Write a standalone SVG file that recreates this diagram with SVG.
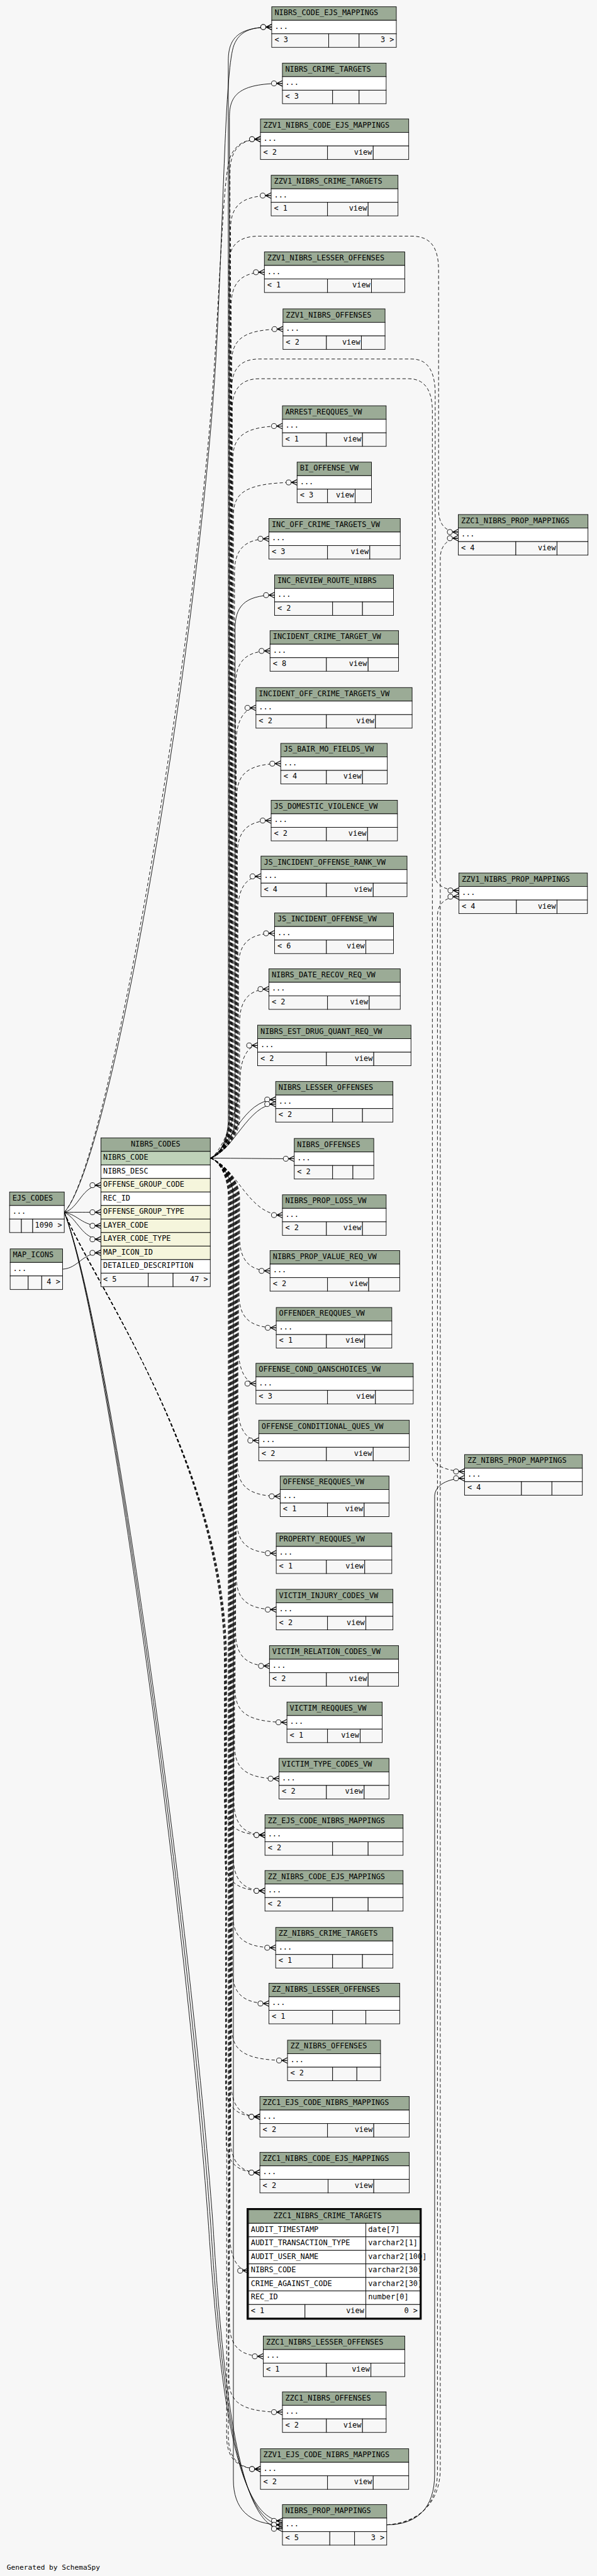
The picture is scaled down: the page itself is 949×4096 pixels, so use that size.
<svg xmlns="http://www.w3.org/2000/svg" width="949" height="4096" viewBox="0 0 949 4096">
<style>
.h{fill:#9bab96;stroke:#000}
.b{fill:#fff;stroke:#000}
.f{fill:#f7f7f7;stroke:#000}
.k{fill:#bed1b8;stroke:#000}
.i{fill:#f5f5dc;stroke:#000}
text{font-family:"DejaVu Sans Mono","Liberation Mono",monospace;font-size:13.3px;fill:#000}
.e{text-anchor:end}
.m{text-anchor:middle}
.s{fill:none;stroke:#000;marker-end:url(#cf)}
.d{fill:none;stroke:#000;stroke-dasharray:6,4;marker-end:url(#cf)}
.n{fill:none;stroke:#000}
</style>
<defs>
<marker id="cf" markerUnits="userSpaceOnUse" markerWidth="26" markerHeight="16" refX="22" refY="8" orient="auto" overflow="visible">
<circle cx="7" cy="8" r="4.5" fill="#f7f7f7" stroke="#000" stroke-width="1" stroke-dasharray="none"/>
<path d="M11.5,8 H22 M12,8 L22,3 M12,8 L22,13" fill="none" stroke="#000" stroke-width="1.3" stroke-dasharray="none"/>
</marker>
</defs>
<rect x="0" y="0" width="949" height="4096" fill="#f7f7f7"/>
<g transform="scale(0.89613)">
<g id="connectors">
<path class="s" d="M373,2055 C390,2050 405,2020 405,1985 L405,108 C405,70 420,48 482,48"/>
<path class="s" d="M373,2055 C390,2050 407,2020 407,1985 L407,208 C407,170 422,148 501,148"/>
<path class="d" d="M373,2055 C390,2050 408,2020 408,1985 L408,307 C408,269 423,247 462,247"/>
<path class="d" d="M373,2055 C390,2050 409,2020 409,1985 L409,407 C409,369 424,347 481,347"/>
<path class="d" d="M373,2055 C390,2050 410,2020 410,1985 L410,543 C410,505 425,483 469,483"/>
<path class="d" d="M373,2055 C390,2050 411,2020 411,1985 L411,644 C411,606 426,584 502,584"/>
<path class="d" d="M373,2055 C390,2050 413,2020 413,1985 L413,816 C413,778 428,756 501,756"/>
<path class="d" d="M373,2055 C390,2050 414,2020 414,1985 L414,916 C414,878 429,856 527,856"/>
<path class="d" d="M373,2055 C390,2050 416,2020 416,1985 L416,1016 C416,978 431,956 477,956"/>
<path class="s" d="M373,2055 C390,2050 417,2020 417,1985 L417,1116 C417,1078 432,1056 487,1056"/>
<path class="d" d="M373,2055 C390,2050 418,2020 418,1985 L418,1215 C418,1177 433,1155 479,1155"/>
<path class="d" d="M373,2055 C390,2050 419,2020 419,1985 L419,1316 C419,1278 434,1256 454,1256"/>
<path class="d" d="M373,2055 C390,2050 420,2020 420,1985 L420,1415 C420,1377 435,1355 498,1355"/>
<path class="d" d="M373,2055 C390,2050 421,2020 421,1985 L421,1516 C421,1478 436,1456 481,1456"/>
<path class="d" d="M373,2055 C390,2050 422,2020 422,1985 L422,1615 C422,1577 437,1555 463,1555"/>
<path class="d" d="M373,2055 C390,2050 423,2020 423,1985 L423,1716 C423,1678 438,1656 487,1656"/>
<path class="d" d="M373,2055 C390,2050 425,2020 425,1985 L425,1815 C425,1777 440,1755 477,1755"/>
<path class="d" d="M373,2055 C395,2045 426,1960 426,1915 C426,1877 441,1855 457,1855"/>
<path class="s" d="M373,2055 C410,2035 430,1951 489,1951"/>
<path class="s" d="M373,2055 C415,2042 440,1959 489,1959"/>
<path class="s" d="M373,2055 C420,2055 470,2056 522,2056"/>
<path class="d" d="M373,2055 C420,2070 440,2156 501,2156"/>
<path class="d" d="M373,2055 C390,2060 425,2090 425,2125 L425,2195 C425,2233 440,2255 479,2255"/>
<path class="d" d="M373,2055 C390,2060 424,2090 424,2125 L424,2296 C424,2334 439,2356 490,2356"/>
<path class="d" d="M373,2055 C390,2060 423,2090 423,2125 L423,2395 C423,2433 438,2455 454,2455"/>
<path class="d" d="M373,2055 C390,2060 422,2090 422,2125 L422,2496 C422,2534 437,2556 459,2556"/>
<path class="d" d="M373,2055 C390,2060 421,2090 421,2125 L421,2595 C421,2633 436,2655 497,2655"/>
<path class="d" d="M373,2055 C390,2060 420,2090 420,2125 L420,2696 C420,2734 435,2756 490,2756"/>
<path class="d" d="M373,2055 C390,2060 419,2090 419,2125 L419,2796 C419,2834 434,2856 490,2856"/>
<path class="d" d="M373,2055 C390,2060 418,2090 418,2125 L418,2896 C418,2934 433,2956 478,2956"/>
<path class="d" d="M373,2055 C390,2060 417,2090 417,2125 L417,2996 C417,3034 432,3056 509,3056"/>
<path class="d" d="M373,2055 C390,2060 416,2090 416,2125 L416,3096 C416,3134 431,3156 495,3156"/>
<path class="d" d="M373,2055 C390,2060 415,2090 415,2125 L415,3196 C415,3234 430,3256 470,3256"/>
<path class="d" d="M373,2055 C390,2060 414,2090 414,2125 L414,3295 C414,3333 429,3355 470,3355"/>
<path class="d" d="M373,2055 C390,2060 413,2090 413,2125 L413,3396 C413,3434 428,3456 489,3456"/>
<path class="d" d="M373,2055 C390,2060 412,2090 412,2125 L412,3495 C412,3533 427,3555 477,3555"/>
<path class="d" d="M373,2055 C390,2060 411,2090 411,2125 L411,3596 C411,3634 426,3656 510,3656"/>
<path class="d" d="M373,2055 C390,2060 410,2090 410,2125 L410,3696 C410,3734 425,3756 461,3756"/>
<path class="d" d="M373,2055 C390,2060 409,2090 409,2125 L409,3795 C409,3833 424,3855 461,3855"/>
<path class="d" d="M373,2055 C390,2060 408,2090 408,2125 L408,3969 C408,4007 423,4029 441,4029"/>
<path class="d" d="M373,2055 C390,2060 407,2090 407,2125 L407,4121 C407,4159 422,4181 467,4181"/>
<path class="d" d="M373,2055 C390,2060 406,2090 406,2125 L406,4220 C406,4258 421,4280 501,4280"/>
<path class="d" d="M373,2055 C390,2060 405,2090 405,2125 L405,4321 C405,4359 420,4381 462,4381"/>
<path class="s" d="M373,2055 C390,2060 414,2090 414,2125 L414,4400 C414,4450 440,4480 501,4480"/>
<path class="s" d="M114,2151 C140,2145 145,2103 179,2103"/>
<path class="s" d="M114,2151 C140,2151 150,2151 179,2151"/>
<path class="s" d="M114,2151 C140,2156 145,2175 179,2175"/>
<path class="s" d="M114,2151 C138,2162 145,2199 179,2199"/>
<path class="s" d="M111,2252 C140,2250 145,2223 179,2223"/>
<path class="s" d="M114,2151 C200,2060 360,1100 385,600 C398,330 400,120 415,80 C425,55 445,48 482,48"/>
<path class="d" d="M114,2151 C195,2065 355,1100 382,620 C395,400 398,300 410,275 C420,255 435,247 462,247"/>
<path class="d" d="M114,2151 C170,2280 398,2600 398,2950 L398,3196 C398,3234 413,3256 470,3256"/>
<path class="d" d="M114,2151 C170,2282 399,2600 399,2950 L399,3295 C399,3333 414,3355 470,3355"/>
<path class="d" d="M114,2151 C170,2284 400,2600 400,2950 L400,3696 C400,3734 415,3756 461,3756"/>
<path class="d" d="M114,2151 C170,2286 401,2600 401,2950 L401,3795 C401,3833 416,3855 461,3855"/>
<path class="d" d="M114,2151 C170,2288 402,2600 402,2950 L402,4321 C402,4359 417,4381 462,4381"/>
<path class="s" d="M114,2151 C190,2350 330,3400 370,3950 C390,4250 420,4473 501,4473"/>
<path class="s" d="M114,2151 C192,2350 334,3400 374,3950 C393,4250 423,4480 501,4480"/>
<path class="s" d="M114,2151 C194,2350 338,3400 378,3950 C396,4250 426,4487 501,4487"/>
<path class="d" d="M373,2055 C390,2050 406,2020 406,1985 L406,470 C406,435 423,419 460,419 L730,419 C765,419 778,440 778,480 L778,905 C778,930 790,944 813,944"/>
<path class="d" d="M373,2055 C390,2050 411,2020 411,1985 L411,690 C411,655 426,637 460,637 L730,637 C760,637 772,660 772,700 L772,1555 C772,1570 790,1580 814,1580"/>
<path class="d" d="M373,2055 C390,2050 412,2020 412,1985 L412,725 C412,690 428,672 460,672 L725,672 C755,672 767,695 767,730 L767,2585 C767,2600 795,2611 824,2611"/>
<path class="s" d="M686,4480 C740,4480 771,4450 771,4390 L771,2655 C771,2635 795,2623 824,2623"/>
<path class="d" d="M686,4480 C742,4478 776,4445 776,4385 L776,1625 C776,1600 795,1591 814,1591"/>
<path class="d" d="M686,4480 C744,4476 781,4440 781,4380 L781,990 C781,968 795,955 813,955"/>
</g>

<g id="NIBRS_CODE_EJS_MAPPINGS"><rect class="h" x="482" y="12" width="221" height="24"/><text x="487" y="27">NIBRS_CODE_EJS_MAPPINGS</text><rect class="b" x="482" y="36" width="221" height="24"/><text x="487" y="51">...</text><rect class="f" x="482" y="60" width="101" height="24"/><rect class="f" x="583" y="60" width="54" height="24"/><rect class="f" x="637" y="60" width="66" height="24"/><text x="487" y="75">&lt; 3</text><text class="e" x="699" y="75">3 &gt;</text></g>
<g id="NIBRS_CRIME_TARGETS"><rect class="h" x="501" y="112" width="184" height="24"/><text x="506" y="127">NIBRS_CRIME_TARGETS</text><rect class="b" x="501" y="136" width="184" height="24"/><text x="506" y="151">...</text><rect class="f" x="501" y="160" width="89" height="24"/><rect class="f" x="590" y="160" width="47" height="24"/><rect class="f" x="637" y="160" width="48" height="24"/><text x="506" y="175">&lt; 3</text></g>
<g id="ZZV1_NIBRS_CODE_EJS_MAPPINGS"><rect class="h" x="462" y="211" width="263" height="24"/><text x="467" y="226">ZZV1_NIBRS_CODE_EJS_MAPPINGS</text><rect class="b" x="462" y="235" width="263" height="24"/><text x="467" y="250">...</text><rect class="f" x="462" y="259" width="119" height="24"/><rect class="f" x="581" y="259" width="81" height="24"/><rect class="f" x="662" y="259" width="63" height="24"/><text x="467" y="274">&lt; 2</text><text class="e" x="660" y="274">view</text></g>
<g id="ZZV1_NIBRS_CRIME_TARGETS"><rect class="h" x="481" y="311" width="225" height="24"/><text x="486" y="326">ZZV1_NIBRS_CRIME_TARGETS</text><rect class="b" x="481" y="335" width="225" height="24"/><text x="486" y="350">...</text><rect class="f" x="481" y="359" width="100" height="24"/><rect class="f" x="581" y="359" width="72" height="24"/><rect class="f" x="653" y="359" width="53" height="24"/><text x="486" y="374">&lt; 1</text><text class="e" x="651" y="374">view</text></g>
<g id="ZZV1_NIBRS_LESSER_OFFENSES"><rect class="h" x="469" y="447" width="249" height="24"/><text x="474" y="462">ZZV1_NIBRS_LESSER_OFFENSES</text><rect class="b" x="469" y="471" width="249" height="24"/><text x="474" y="486">...</text><rect class="f" x="469" y="495" width="112" height="24"/><rect class="f" x="581" y="495" width="78" height="24"/><rect class="f" x="659" y="495" width="59" height="24"/><text x="474" y="510">&lt; 1</text><text class="e" x="657" y="510">view</text></g>
<g id="ZZV1_NIBRS_OFFENSES"><rect class="h" x="502" y="548" width="181" height="24"/><text x="507" y="563">ZZV1_NIBRS_OFFENSES</text><rect class="b" x="502" y="572" width="181" height="24"/><text x="507" y="587">...</text><rect class="f" x="502" y="596" width="77" height="24"/><rect class="f" x="579" y="596" width="62" height="24"/><rect class="f" x="641" y="596" width="42" height="24"/><text x="507" y="611">&lt; 2</text><text class="e" x="639" y="611">view</text></g>
<g id="ARREST_REQQUES_VW"><rect class="h" x="501" y="720" width="184" height="24"/><text x="506" y="735">ARREST_REQQUES_VW</text><rect class="b" x="501" y="744" width="184" height="24"/><text x="506" y="759">...</text><rect class="f" x="501" y="768" width="78" height="24"/><rect class="f" x="579" y="768" width="64" height="24"/><rect class="f" x="643" y="768" width="42" height="24"/><text x="506" y="783">&lt; 1</text><text class="e" x="641" y="783">view</text></g>
<g id="BI_OFFENSE_VW"><rect class="h" x="527" y="820" width="132" height="24"/><text x="532" y="835">BI_OFFENSE_VW</text><rect class="b" x="527" y="844" width="132" height="24"/><text x="532" y="859">...</text><rect class="f" x="527" y="868" width="54" height="24"/><rect class="f" x="581" y="868" width="49" height="24"/><rect class="f" x="630" y="868" width="29" height="24"/><text x="532" y="883">&lt; 3</text><text class="e" x="628" y="883">view</text></g>
<g id="INC_OFF_CRIME_TARGETS_VW"><rect class="h" x="477" y="920" width="233" height="24"/><text x="482" y="935">INC_OFF_CRIME_TARGETS_VW</text><rect class="b" x="477" y="944" width="233" height="24"/><text x="482" y="959">...</text><rect class="f" x="477" y="968" width="104" height="24"/><rect class="f" x="581" y="968" width="75" height="24"/><rect class="f" x="656" y="968" width="54" height="24"/><text x="482" y="983">&lt; 3</text><text class="e" x="654" y="983">view</text></g>
<g id="INC_REVIEW_ROUTE_NIBRS"><rect class="h" x="487" y="1020" width="211" height="24"/><text x="492" y="1035">INC_REVIEW_ROUTE_NIBRS</text><rect class="b" x="487" y="1044" width="211" height="24"/><text x="492" y="1059">...</text><rect class="f" x="487" y="1068" width="103" height="24"/><rect class="f" x="590" y="1068" width="53" height="24"/><rect class="f" x="643" y="1068" width="55" height="24"/><text x="492" y="1083">&lt; 2</text></g>
<g id="INCIDENT_CRIME_TARGET_VW"><rect class="h" x="479" y="1119" width="228" height="24"/><text x="484" y="1134">INCIDENT_CRIME_TARGET_VW</text><rect class="b" x="479" y="1143" width="228" height="24"/><text x="484" y="1158">...</text><rect class="f" x="479" y="1167" width="100" height="24"/><rect class="f" x="579" y="1167" width="74" height="24"/><rect class="f" x="653" y="1167" width="54" height="24"/><text x="484" y="1182">&lt; 8</text><text class="e" x="651" y="1182">view</text></g>
<g id="INCIDENT_OFF_CRIME_TARGETS_VW"><rect class="h" x="454" y="1220" width="277" height="24"/><text x="459" y="1235">INCIDENT_OFF_CRIME_TARGETS_VW</text><rect class="b" x="454" y="1244" width="277" height="24"/><text x="459" y="1259">...</text><rect class="f" x="454" y="1268" width="125" height="24"/><rect class="f" x="579" y="1268" width="87" height="24"/><rect class="f" x="666" y="1268" width="65" height="24"/><text x="459" y="1283">&lt; 2</text><text class="e" x="664" y="1283">view</text></g>
<g id="JS_BAIR_MO_FIELDS_VW"><rect class="h" x="498" y="1319" width="189" height="24"/><text x="503" y="1334">JS_BAIR_MO_FIELDS_VW</text><rect class="b" x="498" y="1343" width="189" height="24"/><text x="503" y="1358">...</text><rect class="f" x="498" y="1367" width="81" height="24"/><rect class="f" x="579" y="1367" width="64" height="24"/><rect class="f" x="643" y="1367" width="44" height="24"/><text x="503" y="1382">&lt; 4</text><text class="e" x="641" y="1382">view</text></g>
<g id="JS_DOMESTIC_VIOLENCE_VW"><rect class="h" x="481" y="1420" width="224" height="24"/><text x="486" y="1435">JS_DOMESTIC_VIOLENCE_VW</text><rect class="b" x="481" y="1444" width="224" height="24"/><text x="486" y="1459">...</text><rect class="f" x="481" y="1468" width="98" height="24"/><rect class="f" x="579" y="1468" width="73" height="24"/><rect class="f" x="652" y="1468" width="53" height="24"/><text x="486" y="1483">&lt; 2</text><text class="e" x="650" y="1483">view</text></g>
<g id="JS_INCIDENT_OFFENSE_RANK_VW"><rect class="h" x="463" y="1519" width="259" height="24"/><text x="468" y="1534">JS_INCIDENT_OFFENSE_RANK_VW</text><rect class="b" x="463" y="1543" width="259" height="24"/><text x="468" y="1558">...</text><rect class="f" x="463" y="1567" width="116" height="24"/><rect class="f" x="579" y="1567" width="83" height="24"/><rect class="f" x="662" y="1567" width="60" height="24"/><text x="468" y="1582">&lt; 4</text><text class="e" x="660" y="1582">view</text></g>
<g id="JS_INCIDENT_OFFENSE_VW"><rect class="h" x="487" y="1620" width="211" height="24"/><text x="492" y="1635">JS_INCIDENT_OFFENSE_VW</text><rect class="b" x="487" y="1644" width="211" height="24"/><text x="492" y="1659">...</text><rect class="f" x="487" y="1668" width="92" height="24"/><rect class="f" x="579" y="1668" width="70" height="24"/><rect class="f" x="649" y="1668" width="49" height="24"/><text x="492" y="1683">&lt; 6</text><text class="e" x="647" y="1683">view</text></g>
<g id="NIBRS_DATE_RECOV_REQ_VW"><rect class="h" x="477" y="1719" width="233" height="24"/><text x="482" y="1734">NIBRS_DATE_RECOV_REQ_VW</text><rect class="b" x="477" y="1743" width="233" height="24"/><text x="482" y="1758">...</text><rect class="f" x="477" y="1767" width="104" height="24"/><rect class="f" x="581" y="1767" width="74" height="24"/><rect class="f" x="655" y="1767" width="55" height="24"/><text x="482" y="1782">&lt; 2</text><text class="e" x="653" y="1782">view</text></g>
<g id="NIBRS_EST_DRUG_QUANT_REQ_VW"><rect class="h" x="457" y="1819" width="272" height="24"/><text x="462" y="1834">NIBRS_EST_DRUG_QUANT_REQ_VW</text><rect class="b" x="457" y="1843" width="272" height="24"/><text x="462" y="1858">...</text><rect class="f" x="457" y="1867" width="122" height="24"/><rect class="f" x="579" y="1867" width="84" height="24"/><rect class="f" x="663" y="1867" width="66" height="24"/><text x="462" y="1882">&lt; 2</text><text class="e" x="661" y="1882">view</text></g>
<g id="NIBRS_LESSER_OFFENSES"><rect class="h" x="489" y="1919" width="208" height="24"/><text x="494" y="1934">NIBRS_LESSER_OFFENSES</text><rect class="b" x="489" y="1943" width="208" height="24"/><text x="494" y="1958">...</text><rect class="f" x="489" y="1967" width="101" height="24"/><rect class="f" x="590" y="1967" width="53" height="24"/><rect class="f" x="643" y="1967" width="54" height="24"/><text x="494" y="1982">&lt; 2</text></g>
<g id="NIBRS_OFFENSES"><rect class="h" x="522" y="2020" width="141" height="24"/><text x="527" y="2035">NIBRS_OFFENSES</text><rect class="b" x="522" y="2044" width="141" height="24"/><text x="527" y="2059">...</text><rect class="f" x="522" y="2068" width="68" height="24"/><rect class="f" x="590" y="2068" width="36" height="24"/><rect class="f" x="626" y="2068" width="37" height="24"/><text x="527" y="2083">&lt; 2</text></g>
<g id="NIBRS_PROP_LOSS_VW"><rect class="h" x="501" y="2120" width="184" height="24"/><text x="506" y="2135">NIBRS_PROP_LOSS_VW</text><rect class="b" x="501" y="2144" width="184" height="24"/><text x="506" y="2159">...</text><rect class="f" x="501" y="2168" width="78" height="24"/><rect class="f" x="579" y="2168" width="64" height="24"/><rect class="f" x="643" y="2168" width="42" height="24"/><text x="506" y="2183">&lt; 2</text><text class="e" x="641" y="2183">view</text></g>
<g id="NIBRS_PROP_VALUE_REQ_VW"><rect class="h" x="479" y="2219" width="230" height="24"/><text x="484" y="2234">NIBRS_PROP_VALUE_REQ_VW</text><rect class="b" x="479" y="2243" width="230" height="24"/><text x="484" y="2258">...</text><rect class="f" x="479" y="2267" width="102" height="24"/><rect class="f" x="581" y="2267" width="73" height="24"/><rect class="f" x="654" y="2267" width="55" height="24"/><text x="484" y="2282">&lt; 2</text><text class="e" x="652" y="2282">view</text></g>
<g id="OFFENDER_REQQUES_VW"><rect class="h" x="490" y="2320" width="205" height="24"/><text x="495" y="2335">OFFENDER_REQQUES_VW</text><rect class="b" x="490" y="2344" width="205" height="24"/><text x="495" y="2359">...</text><rect class="f" x="490" y="2368" width="89" height="24"/><rect class="f" x="579" y="2368" width="68" height="24"/><rect class="f" x="647" y="2368" width="48" height="24"/><text x="495" y="2383">&lt; 1</text><text class="e" x="645" y="2383">view</text></g>
<g id="OFFENSE_COND_QANSCHOICES_VW"><rect class="h" x="454" y="2419" width="279" height="24"/><text x="459" y="2434">OFFENSE_COND_QANSCHOICES_VW</text><rect class="b" x="454" y="2443" width="279" height="24"/><text x="459" y="2458">...</text><rect class="f" x="454" y="2467" width="127" height="24"/><rect class="f" x="581" y="2467" width="85" height="24"/><rect class="f" x="666" y="2467" width="67" height="24"/><text x="459" y="2482">&lt; 3</text><text class="e" x="664" y="2482">view</text></g>
<g id="OFFENSE_CONDITIONAL_QUES_VW"><rect class="h" x="459" y="2520" width="267" height="24"/><text x="464" y="2535">OFFENSE_CONDITIONAL_QUES_VW</text><rect class="b" x="459" y="2544" width="267" height="24"/><text x="464" y="2559">...</text><rect class="f" x="459" y="2568" width="120" height="24"/><rect class="f" x="579" y="2568" width="83" height="24"/><rect class="f" x="662" y="2568" width="64" height="24"/><text x="464" y="2583">&lt; 2</text><text class="e" x="660" y="2583">view</text></g>
<g id="OFFENSE_REQQUES_VW"><rect class="h" x="497" y="2619" width="193" height="24"/><text x="502" y="2634">OFFENSE_REQQUES_VW</text><rect class="b" x="497" y="2643" width="193" height="24"/><text x="502" y="2658">...</text><rect class="f" x="497" y="2667" width="84" height="24"/><rect class="f" x="581" y="2667" width="65" height="24"/><rect class="f" x="646" y="2667" width="44" height="24"/><text x="502" y="2682">&lt; 1</text><text class="e" x="644" y="2682">view</text></g>
<g id="PROPERTY_REQQUES_VW"><rect class="h" x="490" y="2720" width="205" height="24"/><text x="495" y="2735">PROPERTY_REQQUES_VW</text><rect class="b" x="490" y="2744" width="205" height="24"/><text x="495" y="2759">...</text><rect class="f" x="490" y="2768" width="89" height="24"/><rect class="f" x="579" y="2768" width="68" height="24"/><rect class="f" x="647" y="2768" width="48" height="24"/><text x="495" y="2783">&lt; 1</text><text class="e" x="645" y="2783">view</text></g>
<g id="VICTIM_INJURY_CODES_VW"><rect class="h" x="490" y="2820" width="207" height="24"/><text x="495" y="2835">VICTIM_INJURY_CODES_VW</text><rect class="b" x="490" y="2844" width="207" height="24"/><text x="495" y="2859">...</text><rect class="f" x="490" y="2868" width="91" height="24"/><rect class="f" x="581" y="2868" width="68" height="24"/><rect class="f" x="649" y="2868" width="48" height="24"/><text x="495" y="2883">&lt; 2</text><text class="e" x="647" y="2883">view</text></g>
<g id="VICTIM_RELATION_CODES_VW"><rect class="h" x="478" y="2920" width="229" height="24"/><text x="483" y="2935">VICTIM_RELATION_CODES_VW</text><rect class="b" x="478" y="2944" width="229" height="24"/><text x="483" y="2959">...</text><rect class="f" x="478" y="2968" width="101" height="24"/><rect class="f" x="579" y="2968" width="74" height="24"/><rect class="f" x="653" y="2968" width="54" height="24"/><text x="483" y="2983">&lt; 2</text><text class="e" x="651" y="2983">view</text></g>
<g id="VICTIM_REQQUES_VW"><rect class="h" x="509" y="3020" width="169" height="24"/><text x="514" y="3035">VICTIM_REQQUES_VW</text><rect class="b" x="509" y="3044" width="169" height="24"/><text x="514" y="3059">...</text><rect class="f" x="509" y="3068" width="72" height="24"/><rect class="f" x="581" y="3068" width="58" height="24"/><rect class="f" x="639" y="3068" width="39" height="24"/><text x="514" y="3083">&lt; 1</text><text class="e" x="637" y="3083">view</text></g>
<g id="VICTIM_TYPE_CODES_VW"><rect class="h" x="495" y="3120" width="195" height="24"/><text x="500" y="3135">VICTIM_TYPE_CODES_VW</text><rect class="b" x="495" y="3144" width="195" height="24"/><text x="500" y="3159">...</text><rect class="f" x="495" y="3168" width="84" height="24"/><rect class="f" x="579" y="3168" width="67" height="24"/><rect class="f" x="646" y="3168" width="44" height="24"/><text x="500" y="3183">&lt; 2</text><text class="e" x="644" y="3183">view</text></g>
<g id="ZZ_EJS_CODE_NIBRS_MAPPINGS"><rect class="h" x="470" y="3220" width="245" height="24"/><text x="475" y="3235">ZZ_EJS_CODE_NIBRS_MAPPINGS</text><rect class="b" x="470" y="3244" width="245" height="24"/><text x="475" y="3259">...</text><rect class="f" x="470" y="3268" width="120" height="24"/><rect class="f" x="590" y="3268" width="63" height="24"/><rect class="f" x="653" y="3268" width="62" height="24"/><text x="475" y="3283">&lt; 2</text></g>
<g id="ZZ_NIBRS_CODE_EJS_MAPPINGS"><rect class="h" x="470" y="3319" width="245" height="24"/><text x="475" y="3334">ZZ_NIBRS_CODE_EJS_MAPPINGS</text><rect class="b" x="470" y="3343" width="245" height="24"/><text x="475" y="3358">...</text><rect class="f" x="470" y="3367" width="120" height="24"/><rect class="f" x="590" y="3367" width="63" height="24"/><rect class="f" x="653" y="3367" width="62" height="24"/><text x="475" y="3382">&lt; 2</text></g>
<g id="ZZ_NIBRS_CRIME_TARGETS"><rect class="h" x="489" y="3420" width="208" height="24"/><text x="494" y="3435">ZZ_NIBRS_CRIME_TARGETS</text><rect class="b" x="489" y="3444" width="208" height="24"/><text x="494" y="3459">...</text><rect class="f" x="489" y="3468" width="101" height="24"/><rect class="f" x="590" y="3468" width="53" height="24"/><rect class="f" x="643" y="3468" width="54" height="24"/><text x="494" y="3483">&lt; 1</text></g>
<g id="ZZ_NIBRS_LESSER_OFFENSES"><rect class="h" x="477" y="3519" width="232" height="24"/><text x="482" y="3534">ZZ_NIBRS_LESSER_OFFENSES</text><rect class="b" x="477" y="3543" width="232" height="24"/><text x="482" y="3558">...</text><rect class="f" x="477" y="3567" width="113" height="24"/><rect class="f" x="590" y="3567" width="59" height="24"/><rect class="f" x="649" y="3567" width="60" height="24"/><text x="482" y="3582">&lt; 1</text></g>
<g id="ZZ_NIBRS_OFFENSES"><rect class="h" x="510" y="3620" width="165" height="24"/><text x="515" y="3635">ZZ_NIBRS_OFFENSES</text><rect class="b" x="510" y="3644" width="165" height="24"/><text x="515" y="3659">...</text><rect class="f" x="510" y="3668" width="80" height="24"/><rect class="f" x="590" y="3668" width="43" height="24"/><rect class="f" x="633" y="3668" width="42" height="24"/><text x="515" y="3683">&lt; 2</text></g>
<g id="ZZC1_EJS_CODE_NIBRS_MAPPINGS"><rect class="h" x="461" y="3720" width="265" height="24"/><text x="466" y="3735">ZZC1_EJS_CODE_NIBRS_MAPPINGS</text><rect class="b" x="461" y="3744" width="265" height="24"/><text x="466" y="3759">...</text><rect class="f" x="461" y="3768" width="120" height="24"/><rect class="f" x="581" y="3768" width="82" height="24"/><rect class="f" x="663" y="3768" width="63" height="24"/><text x="466" y="3783">&lt; 2</text><text class="e" x="661" y="3783">view</text></g>
<g id="ZZC1_NIBRS_CODE_EJS_MAPPINGS"><rect class="h" x="461" y="3819" width="265" height="24"/><text x="466" y="3834">ZZC1_NIBRS_CODE_EJS_MAPPINGS</text><rect class="b" x="461" y="3843" width="265" height="24"/><text x="466" y="3858">...</text><rect class="f" x="461" y="3867" width="121" height="24"/><rect class="f" x="582" y="3867" width="81" height="24"/><rect class="f" x="663" y="3867" width="63" height="24"/><text x="466" y="3882">&lt; 2</text><text class="e" x="661" y="3882">view</text></g>
<g id="ZZC1_NIBRS_CRIME_TARGETS">
<rect class="h" x="441" y="3921" width="304" height="24"/><text x="485" y="3936">ZZC1_NIBRS_CRIME_TARGETS</text>
<rect class="b" x="441" y="3945" width="208" height="24"/><rect class="b" x="649" y="3945" width="96" height="24"/><text x="445" y="3960">AUDIT_TIMESTAMP</text><text x="653" y="3960">date[7]</text>
<rect class="b" x="441" y="3969" width="208" height="24"/><rect class="b" x="649" y="3969" width="96" height="24"/><text x="445" y="3984">AUDIT_TRANSACTION_TYPE</text><text x="653" y="3984">varchar2[1]</text>
<rect class="b" x="441" y="3993" width="208" height="24"/><rect class="b" x="649" y="3993" width="96" height="24"/><text x="445" y="4008">AUDIT_USER_NAME</text><text x="653" y="4008">varchar2[100]</text>
<rect class="b" x="441" y="4017" width="208" height="24"/><rect class="b" x="649" y="4017" width="96" height="24"/><text x="445" y="4032">NIBRS_CODE</text><text x="653" y="4032">varchar2[30]</text>
<rect class="b" x="441" y="4041" width="208" height="24"/><rect class="b" x="649" y="4041" width="96" height="24"/><text x="445" y="4056">CRIME_AGAINST_CODE</text><text x="653" y="4056">varchar2[30]</text>
<rect class="b" x="441" y="4065" width="208" height="24"/><rect class="b" x="649" y="4065" width="96" height="24"/><text x="445" y="4080">REC_ID</text><text x="653" y="4080">number[0]</text>
<rect class="f" x="441" y="4089" width="100" height="24"/><rect class="f" x="541" y="4089" width="108" height="24"/><rect class="f" x="649" y="4089" width="96" height="24"/><text x="445" y="4104">&lt; 1</text><text class="e" x="646" y="4104">view</text><text class="e" x="741" y="4104">0 &gt;</text>
<rect x="439" y="3919.5" width="307.5" height="195" fill="none" stroke="#000" stroke-width="3"/>
</g>
<g id="ZZC1_NIBRS_LESSER_OFFENSES"><rect class="h" x="467" y="4145" width="251" height="24"/><text x="472" y="4160">ZZC1_NIBRS_LESSER_OFFENSES</text><rect class="b" x="467" y="4169" width="251" height="24"/><text x="472" y="4184">...</text><rect class="f" x="467" y="4193" width="112" height="24"/><rect class="f" x="579" y="4193" width="79" height="24"/><rect class="f" x="658" y="4193" width="60" height="24"/><text x="472" y="4208">&lt; 1</text><text class="e" x="656" y="4208">view</text></g>
<g id="ZZC1_NIBRS_OFFENSES"><rect class="h" x="501" y="4244" width="184" height="24"/><text x="506" y="4259">ZZC1_NIBRS_OFFENSES</text><rect class="b" x="501" y="4268" width="184" height="24"/><text x="506" y="4283">...</text><rect class="f" x="501" y="4292" width="78" height="24"/><rect class="f" x="579" y="4292" width="64" height="24"/><rect class="f" x="643" y="4292" width="42" height="24"/><text x="506" y="4307">&lt; 2</text><text class="e" x="641" y="4307">view</text></g>
<g id="ZZV1_EJS_CODE_NIBRS_MAPPINGS"><rect class="h" x="462" y="4345" width="263" height="24"/><text x="467" y="4360">ZZV1_EJS_CODE_NIBRS_MAPPINGS</text><rect class="b" x="462" y="4369" width="263" height="24"/><text x="467" y="4384">...</text><rect class="f" x="462" y="4393" width="119" height="24"/><rect class="f" x="581" y="4393" width="81" height="24"/><rect class="f" x="662" y="4393" width="63" height="24"/><text x="467" y="4408">&lt; 2</text><text class="e" x="660" y="4408">view</text></g>
<g id="NIBRS_PROP_MAPPINGS"><rect class="h" x="501" y="4444" width="185" height="24"/><text x="506" y="4459">NIBRS_PROP_MAPPINGS</text><rect class="b" x="501" y="4468" width="185" height="24"/><text x="506" y="4483">...</text><rect class="f" x="501" y="4492" width="84" height="24"/><rect class="f" x="585" y="4492" width="44" height="24"/><rect class="f" x="629" y="4492" width="57" height="24"/><text x="506" y="4507">&lt; 5</text><text class="e" x="682" y="4507">3 &gt;</text></g>
<g id="ZZC1_NIBRS_PROP_MAPPINGS"><rect class="h" x="813" y="913" width="230" height="24"/><text x="818" y="928">ZZC1_NIBRS_PROP_MAPPINGS</text><rect class="b" x="813" y="937" width="230" height="24"/><text x="818" y="952">...</text><rect class="f" x="813" y="961" width="102" height="24"/><rect class="f" x="915" y="961" width="73" height="24"/><rect class="f" x="988" y="961" width="55" height="24"/><text x="818" y="976">&lt; 4</text><text class="e" x="986" y="976">view</text></g>
<g id="ZZV1_NIBRS_PROP_MAPPINGS"><rect class="h" x="814" y="1549" width="228" height="24"/><text x="819" y="1564">ZZV1_NIBRS_PROP_MAPPINGS</text><rect class="b" x="814" y="1573" width="228" height="24"/><text x="819" y="1588">...</text><rect class="f" x="814" y="1597" width="102" height="24"/><rect class="f" x="916" y="1597" width="72" height="24"/><rect class="f" x="988" y="1597" width="54" height="24"/><text x="819" y="1612">&lt; 4</text><text class="e" x="986" y="1612">view</text></g>
<g id="ZZ_NIBRS_PROP_MAPPINGS"><rect class="h" x="824" y="2581" width="209" height="24"/><text x="829" y="2596">ZZ_NIBRS_PROP_MAPPINGS</text><rect class="b" x="824" y="2605" width="209" height="24"/><text x="829" y="2620">...</text><rect class="f" x="824" y="2629" width="101" height="24"/><rect class="f" x="925" y="2629" width="54" height="24"/><rect class="f" x="979" y="2629" width="54" height="24"/><text x="829" y="2644">&lt; 4</text></g>
<g id="EJS_CODES"><rect class="h" x="17" y="2115" width="97" height="24"/><text x="22" y="2130">EJS_CODES</text><rect class="b" x="17" y="2139" width="97" height="24"/><text x="22" y="2154">...</text><rect class="f" x="17" y="2163" width="21" height="24"/><rect class="f" x="38" y="2163" width="20" height="24"/><rect class="f" x="58" y="2163" width="56" height="24"/><text class="e" x="110" y="2178">1090 &gt;</text></g>
<g id="MAP_ICONS"><rect class="h" x="18" y="2216" width="93" height="24"/><text x="23" y="2231">MAP_ICONS</text><rect class="b" x="18" y="2240" width="93" height="24"/><text x="23" y="2255">...</text><rect class="f" x="18" y="2264" width="32" height="24"/><rect class="f" x="50" y="2264" width="24" height="24"/><rect class="f" x="74" y="2264" width="37" height="24"/><text class="e" x="107" y="2279">4 &gt;</text></g>
<g id="NIBRS_CODES">
<rect class="h" x="179" y="2019" width="194" height="24"/><text class="m" x="276" y="2034">NIBRS_CODES</text>
<rect class="k" x="179" y="2043" width="194" height="24"/><text x="183" y="2058">NIBRS_CODE</text>
<rect class="b" x="179" y="2067" width="194" height="24"/><text x="183" y="2082">NIBRS_DESC</text>
<rect class="i" x="179" y="2091" width="194" height="24"/><text x="183" y="2106">OFFENSE_GROUP_CODE</text>
<rect class="b" x="179" y="2115" width="194" height="24"/><text x="183" y="2130">REC_ID</text>
<rect class="i" x="179" y="2139" width="194" height="24"/><text x="183" y="2154">OFFENSE_GROUP_TYPE</text>
<rect class="i" x="179" y="2163" width="194" height="24"/><text x="183" y="2178">LAYER_CODE</text>
<rect class="i" x="179" y="2187" width="194" height="24"/><text x="183" y="2202">LAYER_CODE_TYPE</text>
<rect class="i" x="179" y="2211" width="194" height="24"/><text x="183" y="2226">MAP_ICON_ID</text>
<rect class="b" x="179" y="2235" width="194" height="24"/><text x="183" y="2250">DETAILED_DESCRIPTION</text>
<rect class="f" x="179" y="2259" width="84" height="24"/><rect class="f" x="263" y="2259" width="44" height="24"/><rect class="f" x="307" y="2259" width="66" height="24"/><text x="183" y="2274">&lt; 5</text><text class="e" x="369" y="2274">47 &gt;</text>
</g>
<text x="12" y="4560" style="font-size:12.5px">Generated by SchemaSpy</text>
</g>
</svg>
